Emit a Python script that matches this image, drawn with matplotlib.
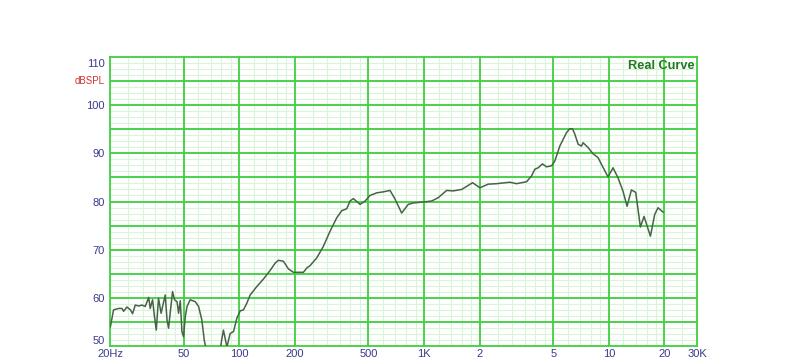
import numpy as np
import matplotlib
matplotlib.use("Agg")
from matplotlib import pyplot as plt
from matplotlib.transforms import ScaledTranslation

# frequency response (Hz, dBSPL)
freq = [20.1, 20.9, 22.3, 23.2, 23.7, 24.7, 25.8, 26.5, 27.4, 28.6, 29.8, 31.0,
        32.4, 33.0, 34.0, 34.7, 35.6, 36.6, 37.8, 38.7, 39.8, 40.7, 41.5, 42.4,
        43.6, 44.7, 46.1, 47.0, 48.0, 49.0, 50.0, 51.1, 52.2, 54.3, 57.9, 60.3,
        62.8, 64.7, 66.1, 69.7, 74.2, 78.0, 80.6, 82.2, 85.8, 89.4, 93.2, 97.2,
        101.3, 105.5, 110, 114.7, 124.6, 135.3, 147.1, 156.5, 163.1, 173.5, 184.7,
        196.5, 213.6, 222.6, 232.2, 242, 263, 285.5, 310, 337, 359, 382, 398, 415,
        433, 451, 480, 510, 555, 602, 655, 697, 757, 822, 875, 991, 1100, 1194,
        1326, 1439, 1598, 1832, 2007, 2225, 2471, 2915, 3169, 3588, 3818, 3979,
        4145, 4377, 4601, 4897, 5102, 5430, 5902, 6152, 6360, 6544, 6821, 7115,
        7256, 7720, 8220, 8750, 9126, 9907, 10540, 11220, 11940, 12550, 13250,
        13980, 14820, 15510, 16790, 17710, 18460, 19640]
spl = [54.0, 57.5, 57.8, 57.8, 57.2, 58.1, 57.5, 56.7, 58.5, 58.3, 58.5, 58.2,
       60.1, 57.8, 59.6, 56.5, 53.3, 59.9, 56.8, 58.5, 60.6, 55.4, 53.7, 57.1,
       61.3, 59.6, 59.2, 56.8, 59.4, 53.0, 51.9, 56.1, 58.2, 59.6, 59.2, 58.2,
       55.4, 51.25, 49.5, 46.0, 45.0, 48.0, 51.5, 53.3, 49.8, 52.6, 53.0, 55.8,
       57.3, 57.5, 58.9, 60.6, 62.35, 63.9, 65.7, 67.2, 67.8, 67.6, 66.0,
       65.3, 65.3, 65.3, 66.2, 66.7, 68.3, 70.7, 73.8, 76.6, 78.1, 78.5, 80.1, 80.6,
       80.0, 79.4, 80.1, 81.25, 81.8, 82.0, 82.3, 80.5, 77.6, 79.4, 79.7, 79.9, 80.1, 80.8,
       82.3, 82.2, 82.5, 83.9, 82.85, 83.6, 83.7, 84.0, 83.7, 84.1, 85.3, 86.7,
       87.0, 87.8, 87.2, 87.4, 88.4, 91.5, 94.3, 95.1, 95.1, 94.0, 91.9, 91.5,
       92.2, 91.2, 89.9, 89.1, 87.7, 85.1, 87.0, 84.9, 82.1, 79.0, 82.4,
       81.9, 74.7, 76.9, 72.8, 77.3, 78.7, 77.8]

x_major = [20, 50, 100, 200, 500, 1000, 2000, 5000, 10000, 20000, 30000]
x_labels = ["20Hz", "50", "100", "200", "500", "1K", "2", "5", "10", "20", "30K"]
x_minor = [25, 30, 35, 40, 45, 60, 70, 80, 90, 120, 140, 160, 180,
           250, 300, 350, 400, 450, 600, 700, 800, 900,
           1200, 1400, 1600, 1800, 2500, 3000, 3500, 4000, 4500,
           6000, 7000, 8000, 9000, 12000, 14000, 16000, 18000, 25000]
y_major = [50, 60, 70, 80, 90, 100, 110]

plt.rcParams['font.family'] = ['Liberation Sans', 'DejaVu Sans']

fig = plt.figure(figsize=(8, 3.59), dpi=100)
ax = fig.add_axes([110/800, 1 - 346/359, 587/800, 289/359])
ax.set_xscale('log')
ax.set_xlim(20, 30000)
ax.set_ylim(50, 110)

light = '#d9f4d9'
strong = '#3fcf3f'
for f in x_minor:
    ax.axvline(f, color=light, lw=0.8, zorder=1)
for f in x_major[1:-1]:
    ax.axvline(f, color=strong, lw=1.3, zorder=2)
for v in np.arange(50, 110, 1.25):
    ax.axhline(v, color=light, lw=0.8, zorder=1)
for v in range(55, 110, 5):
    ax.axhline(v, color=strong, lw=1.3, zorder=2)

ax.plot(freq, spl, color='#476347', lw=1.1, zorder=3)

for s in ax.spines.values():
    s.set_color(strong)
    s.set_linewidth(1.3)

ax.set_xticks(x_major)
ax.set_xticklabels(x_labels)
ax.set_xticks([], minor=True)
ax.set_yticks(y_major)
ax.set_yticklabels([str(v) for v in y_major])
ax.tick_params(axis='both', length=0, labelsize=8, labelcolor='#3a3a8c')
ax.tick_params(axis='x', pad=2)
ax.tick_params(axis='y', pad=4)
ylabs = ax.get_yticklabels()
ylabs[-1].set_va('top')
ylabs[-1].set_transform(ylabs[-1].get_transform() + ScaledTranslation(0, -0.02, fig.dpi_scale_trans))
ylabs[0].set_va('bottom')

fig.text(105/800, 1 - 81/359, "dBSPL", color='#cc3333', fontsize=7,
         ha='right', va='center')
ax.text(0.996, 0.99, "Real Curve", transform=ax.transAxes, ha='right', va='top',
        color='#1f7a1f', fontsize=9.2, fontweight='bold', zorder=4)

fig.savefig("out.png", dpi=100)
